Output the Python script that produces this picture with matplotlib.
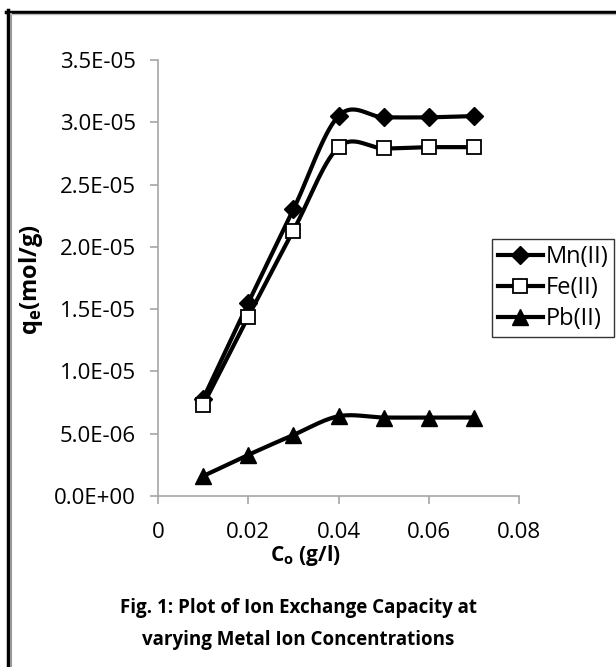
import numpy as np
import matplotlib
matplotlib.use("Agg")
import matplotlib.pyplot as plt
from matplotlib.lines import Line2D

# data
conc = [0.01, 0.02, 0.03, 0.04, 0.05, 0.06, 0.07]
mn = [7.8e-6, 1.55e-5, 2.30e-5, 3.05e-5, 3.04e-5, 3.04e-5, 3.05e-5]
fe = [7.3e-6, 1.44e-5, 2.13e-5, 2.80e-5, 2.79e-5, 2.80e-5, 2.80e-5]
pb = [1.6e-6, 3.3e-6, 4.9e-6, 6.4e-6, 6.3e-6, 6.3e-6, 6.3e-6]
yticks = [0, 5e-6, 1e-5, 1.5e-5, 2e-5, 2.5e-5, 3e-5, 3.5e-5]
xticks = [0, 0.02, 0.04, 0.06, 0.08]


def smooth(x, y, n=30):
    # excel-like smoothed line (catmull-rom style bezier)
    p = np.column_stack([x, y]).astype(float)
    pts = np.vstack([p[0], p, p[-1]])
    out = []
    t = np.linspace(0, 1, n)[:, None]
    for i in range(1, len(pts) - 2):
        p0, p1, p2, p3 = pts[i - 1], pts[i], pts[i + 1], pts[i + 2]
        c1 = p1 + (p2 - p0) / 6
        c2 = p2 - (p3 - p1) / 6
        seg = ((1 - t) ** 3) * p1 + 3 * ((1 - t) ** 2) * t * c1 + 3 * (1 - t) * t ** 2 * c2 + t ** 3 * p2
        out.append(seg if i == 1 else seg[1:])
    out = np.vstack(out)
    return out[:, 0], out[:, 1]


plt.rcParams['font.family'] = ['Open Sans', 'DejaVu Sans']

W, H = 616, 667
fig = plt.figure(figsize=(W / 100, H / 100), dpi=100)
ax = fig.add_axes([158 / W, 1 - 496 / H, (519 - 158) / W, (496 - 60) / H])

series = [
    ("Mn(II)", mn, dict(marker="D", markersize=9, markerfacecolor="black", markeredgecolor="black")),
    ("Fe(II)", fe, dict(marker="s", markersize=9.5, markerfacecolor="white", markeredgecolor="black", markeredgewidth=1.3)),
    ("Pb(II)", pb, dict(marker="^", markersize=12, markerfacecolor="black", markeredgecolor="black")),
]
handles = []
for name, vals, mk in series:
    sx, sy = smooth(conc, vals)
    ax.plot(sx, sy, color="black", lw=3, zorder=2)
    ax.plot(conc, vals, linestyle="none", zorder=3, **mk)
    handles.append(Line2D([], [], color="black", lw=3, label=name, **mk))

ax.set_xlim(0, 0.08)
ax.set_ylim(0, 3.5e-5)
ax.set_xticks(xticks)
ax.set_xticklabels(["0", "0.02", "0.04", "0.06", "0.08"])
ax.set_yticks(yticks)
ax.set_yticklabels(["%.1E" % v for v in yticks])
for s in ["top", "right"]:
    ax.spines[s].set_visible(False)
for s in ["left", "bottom"]:
    ax.spines[s].set_color("#a6a6a6")
    ax.spines[s].set_linewidth(1.2)
ax.tick_params(direction="out", length=6, width=1.2, color="#a6a6a6", labelsize=16)
ax.tick_params(axis="y", pad=10)
ax.tick_params(axis="x", pad=13)

fig.text(305 / W, 1 - 556 / H, r"C$_\mathregular{o}$ (g/l)", fontsize=15, fontweight="bold",
         ha="center", va="center")
fig.text(31 / W, 1 - 280 / H, r"q$_\mathregular{e}$(mol/g)", rotation=90, fontsize=17,
         fontweight="bold", ha="center", va="center")

fig.text(298 / W, 1 - 608 / H, "Fig. 1: Plot of Ion Exchange Capacity at", fontsize=13.5,
         fontweight="bold", ha="center", va="center")
fig.text(298 / W, 1 - 640 / H, "varying Metal Ion Concentrations", fontsize=13.5,
         fontweight="bold", ha="center", va="center")

leg = fig.legend(handles=handles, loc="upper left", bbox_to_anchor=(492 / W, 1 - 239 / H),
                 fontsize=17, frameon=True, fancybox=False, handlelength=1.9,
                 handletextpad=0.12, borderpad=0.25, labelspacing=0.3, borderaxespad=0)
leg.get_frame().set_edgecolor("black")
leg.get_frame().set_linewidth(1)

# double frame around the figure (cut off at right and bottom)
fig.add_artist(Line2D([7.5 / W, 7.5 / W], [0, 1 - 10 / H], color="black", lw=2.5, transform=fig.transFigure))
fig.add_artist(Line2D([6 / W, 1], [1 - 11.5 / H, 1 - 11.5 / H], color="black", lw=2.5, transform=fig.transFigure))
fig.add_artist(Line2D([11 / W, 11 / W], [0, 1 - 14 / H], color="#999999", lw=1.5, transform=fig.transFigure))
fig.add_artist(Line2D([11 / W, 1], [1 - 14 / H, 1 - 14 / H], color="#bbbbbb", lw=1, transform=fig.transFigure))

fig.savefig("out.png", dpi=100)
